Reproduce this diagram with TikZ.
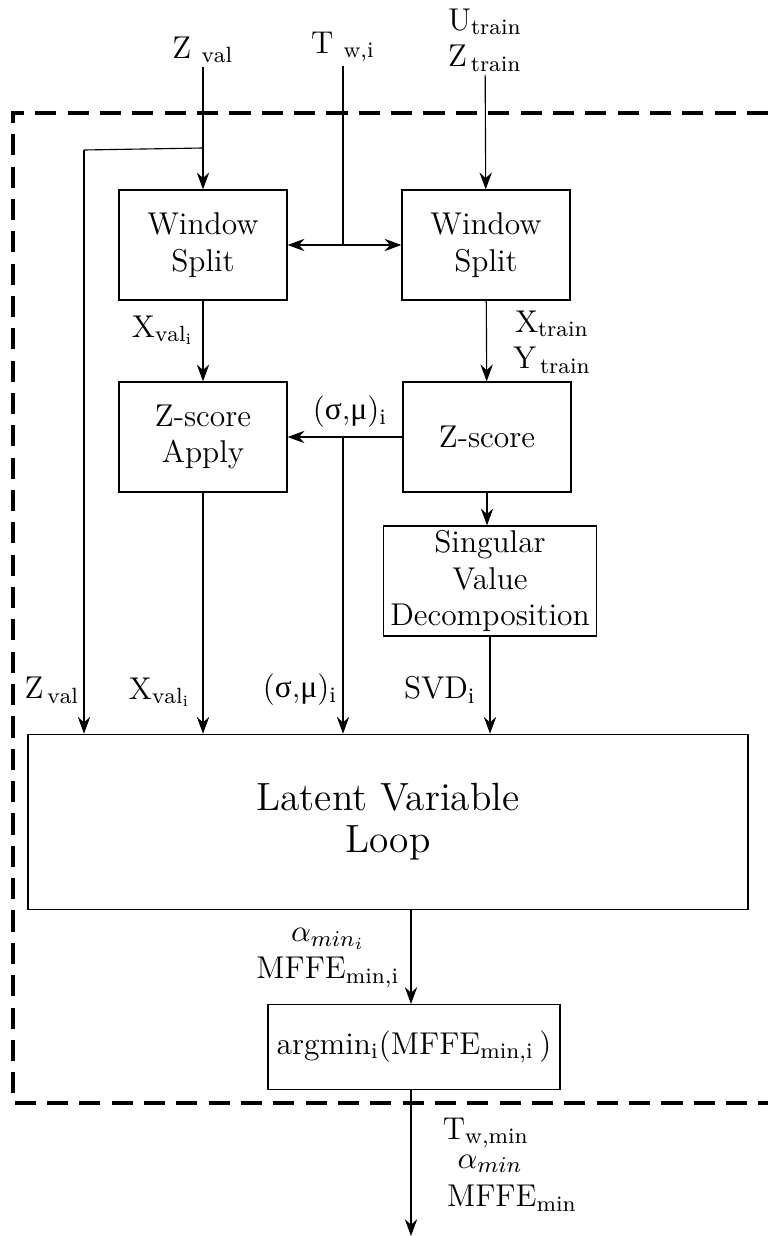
\documentclass[tikz,border=0pt]{standalone}
\usepackage{fontspec}
\newfontfamily\grk{Liberation Serif}
\usetikzlibrary{arrows.meta}
\begin{document}
\begin{tikzpicture}[x=0.0125cm, y=-0.0125cm, >={Stealth[length=6pt,width=4.4pt,inset=2pt]},
  every node/.style={font=\fontsize{11.2}{13}\selectfont},
  blockbox/.style={draw, line width=0.45pt, align=center, inner sep=0pt, minimum width=2.1cm, minimum height=1.375cm},
  lbl/.style={inner sep=1pt, align=center}]
\useasboundingbox (0,0) rectangle (768,1236);
% outer dashed frame, open to the right
\draw[line width=1.1pt, dash pattern=on 7.5pt off 4pt] (768,113) -- (13,113) -- (13,1103) -- (768,1103);

% blocks
\node[blockbox] (wsval) at (203,245) {Window\\Split};
\node[blockbox] (wstrain) at (486,245) {Window\\Split};
\node[blockbox] (apply) at (203,437) {Z-score\\Apply};
\node[blockbox] (zscore) at (487,437) {Z-score};
\node[blockbox, minimum width=2.66cm] (svd) at (490,581) {Singular\\Value\\Decomposition};
\node[blockbox, minimum width=9cm, minimum height=2.19cm, font=\fontsize{14}{15}\selectfont] (loop) at (388,822) {Latent Variable\\Loop};
\node[blockbox, minimum width=3.65cm, minimum height=1.06cm] (argmin) at (414,1047) {argmin$_{\mathrm{i}}$(MFFE$_{\mathrm{min,i}}$\,)};

% inputs
\node[lbl] (zvalin) at (203,50) {Z$_{\mathrm{\ val}}$};
\node[lbl] (twin) at (343,47) {T$_{\mathrm{\ w,i}}$};
\node[lbl] (trainin) at (485,40) {U$_{\mathrm{train}}$\\Z$_{\mathrm{\,train}}$};

% signal labels
\node[lbl] (xvala) at (163,330) {X$_{\mathrm{val_i}}$};
\node[lbl] (xytrain) at (552,342) {X$_{\mathrm{train}}$\\Y$_{\,\mathrm{train}}$};
\node[lbl] (sigmua) at (350,412) {({\grk σ},{\grk μ})$_{\mathrm{i}}$};
\node[lbl] (zvalb) at (52,690) {Z$_{\mathrm{\,val}}$};
\node[lbl] (xvalb) at (160,692) {X$_{\mathrm{val_i}}$};
\node[lbl] (sigmub) at (300,690) {({\grk σ},{\grk μ})$_{\mathrm{i}}$};
\node[lbl] (svdout) at (440,690) {SVD$_{\mathrm{i}}$};
\node[lbl] (loopout) at (328,958) {$\alpha_{min_i}$\\MFFE$_{\mathrm{min,i}}$};
\node[lbl] (twmin) at (486,1133) {T$_{\mathrm{w,min}}$};
\node[lbl] (alphamin) at (490,1164) {$\alpha_{min}$};
\node[lbl] (mffemin) at (512,1198) {MFFE$_{\mathrm{min}}$};

% connections
\coordinate (zvalbr) at (203,148);
\coordinate (zvalcorner) at (84,150);
\coordinate (twbr) at (343,245);
\coordinate (sigbr) at (343,437);
\coordinate (outend) at (411,1236);
\draw[->] (zvalin) -- (wsval);
\draw (zvalbr) -- (zvalcorner);
\draw[->] (zvalcorner) -- (zvalcorner |- loop.north);
\draw (twin) -- (twbr);
\draw[<->] (wsval) -- (wstrain);
\draw[->] (trainin) -- (wstrain);
\draw[->] (wsval) -- (apply);
\draw[->] (wstrain) -- (zscore);
\draw[->] (zscore) -- (apply);
\draw[->] (sigbr) -- (sigbr |- loop.north);
\draw[->] (zscore.south) -- (zscore.south |- svd.north);
\draw[->] (apply) -- (apply |- loop.north);
\draw[->] (svd) -- (svd |- loop.north);
\draw[->] (loop.south -| outend) -- (argmin.north -| outend);
\draw[->] (argmin.south -| outend) -- (outend);
\end{tikzpicture}
\end{document}
